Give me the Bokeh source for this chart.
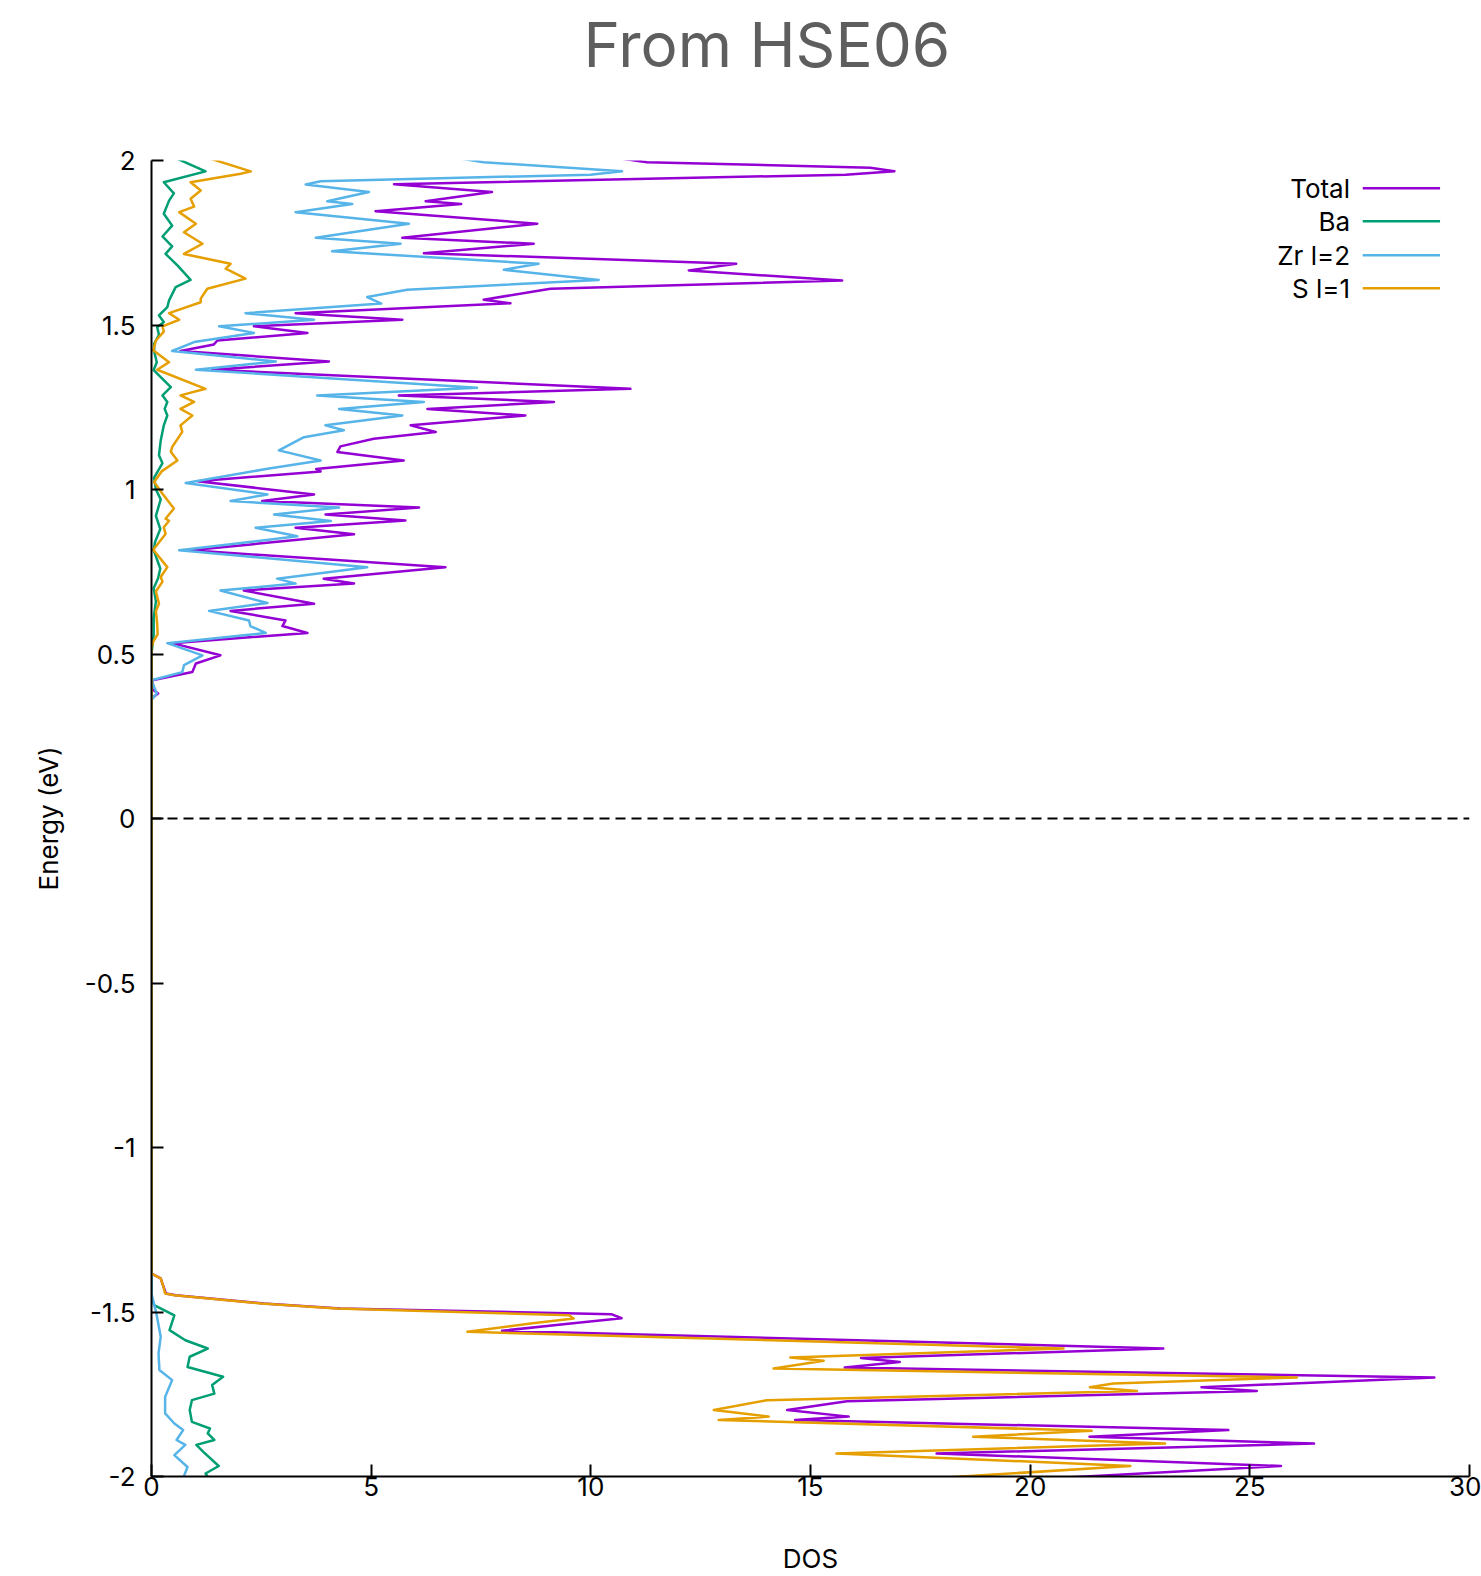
from bokeh.plotting import figure
from bokeh.models import Range1d, FixedTicker, Span, Label, Title
from bokeh.embed import file_html
from bokeh.resources import INLINE

# ---------------- data ----------------
total_energy = [2.005, 1.995, 1.978, 1.967, 1.957, 1.928, 1.904, 1.876, 1.868, 1.846,
                1.808, 1.765, 1.747, 1.718, 1.686, 1.666, 1.635, 1.610, 1.577, 1.566,
                1.536, 1.516, 1.496, 1.476, 1.453, 1.441, 1.421, 1.389, 1.364, 1.306,
                1.286, 1.266, 1.245, 1.225, 1.195, 1.175, 1.154, 1.131, 1.114, 1.088,
                1.062, 1.055, 1.025, 0.985, 0.965, 0.945, 0.924, 0.906, 0.884, 0.864,
                0.815, 0.764, 0.729, 0.714, 0.693, 0.653, 0.631, 0.602, 0.585, 0.564,
                0.533, 0.496, 0.471, 0.445, 0.420, 0.395, 0.380, 0.365,
                -1.383, -1.398, -1.418, -1.444, -1.449, -1.474, -1.489, -1.507, -1.519, -1.535,
                -1.557, -1.611, -1.640, -1.652, -1.669, -1.699, -1.729, -1.740, -1.771, -1.798,
                -1.818, -1.828, -1.859, -1.879, -1.900, -1.930, -1.968, -2.006]
total_dos = [10.72, 11.28, 16.36, 16.91, 15.8, 5.52, 7.75, 6.24, 7.05, 5.10,
             8.78, 5.71, 8.70, 6.20, 13.31, 12.23, 15.72, 9.08, 7.56, 8.17,
             3.28, 5.71, 2.33, 3.55, 1.50, 1.42, 0.66, 4.04, 1.38, 10.90,
             5.63, 9.16, 6.28, 8.51, 5.90, 6.47, 5.06, 4.30, 4.23, 5.74,
             3.75, 3.85, 1.05, 3.70, 2.52, 6.09, 3.96, 5.78, 3.28, 4.61,
             0.89, 6.69, 3.92, 4.61, 2.10, 3.70, 1.80, 3.05, 2.98, 3.55,
             0.47, 1.57, 1.01, 0.93, 0.02, 0.0, 0.15, 0.0,
             0.0, 0.21, 0.26, 0.33, 0.55, 2.55, 4.30, 10.48, 10.70, 9.54,
             7.98, 23.03, 16.15, 17.03, 15.78, 29.20, 23.90, 25.16, 15.83, 14.47,
             15.87, 14.65, 24.51, 21.35, 26.46, 17.87, 25.71, 20.42]

ba_energy = [2.005, 1.967, 1.934, 1.900, 1.878, 1.838, 1.802, 1.769, 1.739, 1.716,
             1.681, 1.637, 1.615, 1.575, 1.554, 1.529, 1.509, 1.493, 1.470, 1.443,
             1.420, 1.387, 1.363, 1.311, 1.286, 1.266, 1.245, 1.225, 1.195, 1.149,
             1.104, 1.080, 1.036, 1.000, 0.970, 0.920, 0.880, 0.840, 0.815, 0.760,
             0.730, 0.700, 0.660, 0.610, 0.560, 0.500,
             -1.454, -1.479, -1.510, -1.555, -1.586, -1.611, -1.636, -1.667, -1.697, -1.722,
             -1.748, -1.768, -1.798, -1.834, -1.854, -1.869, -1.889, -1.904, -1.925, -1.968,
             -1.991, -2.005]
ba_dos = [0.59, 1.23, 0.28, 0.51, 0.40, 0.28, 0.47, 0.25, 0.47, 0.32,
          0.59, 0.89, 0.55, 0.40, 0.36, 0.17, 0.28, 0.13, 0.17, 0.06,
          0.06, 0.12, 0.05, 0.44, 0.25, 0.36, 0.30, 0.36, 0.28, 0.21,
          0.17, 0.25, 0.06, 0.10, 0.21, 0.10, 0.20, 0.08, 0.05, 0.20,
          0.15, 0.05, 0.10, 0.05, 0.05, 0.0,
          0.0, 0.06, 0.52, 0.41, 0.77, 1.28, 0.87, 0.82, 1.63, 1.38,
          1.43, 0.92, 0.87, 0.92, 1.33, 1.28, 1.43, 1.02, 1.18, 1.53,
          1.23, 1.30]

zr_energy = [2.005, 1.995, 1.967, 1.957, 1.937, 1.927, 1.904, 1.876, 1.868, 1.843,
             1.808, 1.765, 1.747, 1.724, 1.686, 1.668, 1.637, 1.607, 1.585, 1.565,
             1.536, 1.516, 1.496, 1.476, 1.448, 1.421, 1.389, 1.364, 1.309, 1.286,
             1.266, 1.245, 1.225, 1.195, 1.180, 1.159, 1.119, 1.088, 1.063, 1.020,
             0.985, 0.965, 0.945, 0.924, 0.904, 0.884, 0.858, 0.815, 0.764, 0.729,
             0.714, 0.693, 0.655, 0.631, 0.602, 0.585, 0.564, 0.533, 0.496, 0.466,
             0.445, 0.420, 0.380, 0.360,
             -1.444, -1.504, -1.575, -1.626, -1.676, -1.707, -1.758, -1.808, -1.839, -1.859,
             -1.889, -1.904, -1.935, -1.971, -2.005]
zr_dos = [7.07, 7.56, 10.71, 9.99, 3.85, 3.51, 4.95, 4.00, 4.57, 3.28,
          5.86, 3.74, 5.67, 4.11, 8.81, 8.02, 10.18, 5.82, 4.91, 5.23,
          2.14, 3.70, 1.54, 2.33, 0.97, 0.47, 2.83, 1.01, 7.41, 3.77,
          6.20, 4.27, 5.71, 3.96, 4.38, 3.47, 2.90, 3.85, 2.64, 0.78,
          2.64, 1.80, 4.27, 2.79, 4.08, 2.37, 3.32, 0.63, 4.91, 2.86,
          3.28, 1.57, 2.64, 1.31, 2.22, 2.25, 2.60, 0.36, 1.16, 0.74,
          0.70, 0.0, 0.12, 0.0,
          0.0, 0.11, 0.21, 0.16, 0.18, 0.47, 0.31, 0.31, 0.52, 0.72,
          0.57, 0.77, 0.52, 0.82, 0.72]

s_energy = [2.005, 1.967, 1.960, 1.934, 1.909, 1.884, 1.860, 1.843, 1.808, 1.782,
            1.747, 1.716, 1.686, 1.671, 1.641, 1.610, 1.580, 1.569, 1.536, 1.516,
            1.496, 1.480, 1.453, 1.423, 1.387, 1.364, 1.306, 1.286, 1.266, 1.245,
            1.225, 1.195, 1.175, 1.129, 1.115, 1.088, 1.055, 1.023, 0.987, 0.942,
            0.911, 0.905, 0.885, 0.865, 0.817, 0.764, 0.734, 0.720, 0.690, 0.653,
            0.630, 0.590, 0.560, 0.540, 0.520,
            -1.383, -1.398, -1.418, -1.444, -1.449, -1.474, -1.489, -1.510, -1.520, -1.535,
            -1.560, -1.611, -1.638, -1.648, -1.672, -1.699, -1.717, -1.729, -1.740, -1.768,
            -1.798, -1.818, -1.828, -1.861, -1.879, -1.900, -1.930, -1.968, -2.006]
s_dos = [1.35, 2.26, 2.03, 0.89, 1.12, 0.89, 0.97, 0.63, 1.01, 0.74,
         1.16, 0.74, 1.80, 1.69, 2.14, 1.27, 1.12, 1.12, 0.40, 0.63,
         0.25, 0.28, 0.10, 0.04, 0.40, 0.13, 1.23, 0.66, 0.97, 0.66,
         0.93, 0.66, 0.70, 0.47, 0.44, 0.59, 0.23, 0.06, 0.25, 0.51,
         0.32, 0.40, 0.28, 0.32, 0.04, 0.36, 0.21, 0.25, 0.10, 0.17,
         0.10, 0.13, 0.14, 0.05, 0.0,
         0.0, 0.21, 0.26, 0.31, 0.52, 2.50, 4.22, 9.50, 9.61, 8.63,
         7.19, 20.76, 14.54, 15.30, 14.16, 26.07, 21.89, 21.36, 22.43, 14.01,
         12.80, 14.05, 12.91, 21.40, 18.70, 23.07, 15.59, 22.28, 17.73]

series_names = ["Total", "Ba", "Zr l=2", "S l=1"]
series_colors = ["#9400d3", "#009e73", "#56b4e9", "#e69f00"]

x_ticks = [0, 5, 10, 15, 20, 25, 30]
x_tick_labels = ["0", "5", "10", "15", "20", "25", "30"]
y_ticks = [-2, -1.5, -1, -0.5, 0, 0.5, 1, 1.5, 2]
y_tick_labels = ["-2", "-1.5", "-1", "-0.5", "0", "0.5", "1", "1.5", "2"]

title_text = "From HSE06"

# legend placement (data units)
legend_text_x = 27.28
legend_line_x0 = 27.57
legend_line_x1 = 29.33
legend_rows = [1.916, 1.815, 1.712, 1.612]

FONT = "Inter"

p = figure(width=1481, height=1576, output_backend="svg", toolbar_location=None,
           x_range=Range1d(0, 30), y_range=Range1d(-2, 2),
           title=title_text,
           min_border_left=151, min_border_right=12, min_border_top=160, min_border_bottom=100)

p.title.text_font = FONT
p.title.text_font_size = "62px"
p.title.text_font_style = "normal"
p.title.text_color = "#5e5e5e"
p.title.align = "left"
p.title.offset = 432
p.title.vertical_align = "top"
p.title.standoff = 10

# invisible spacer between the title and the plot frame, so the title sits at the top
p.add_layout(Title(text=" ", text_font_size="1px", text_color="white", standoff=69), "above")

p.outline_line_color = None
p.xgrid.visible = False
p.ygrid.visible = False
p.background_fill_color = "white"
p.border_fill_color = "white"

for ax in (p.xaxis[0], p.yaxis[0]):
    ax.axis_line_color = "black"
    ax.axis_line_width = 2
    ax.major_tick_line_color = "black"
    ax.major_tick_line_width = 2
    ax.major_tick_in = 12
    ax.major_tick_out = 0
    ax.minor_tick_in = 0
    ax.minor_tick_out = 0
    ax.major_label_text_font = FONT
    ax.major_label_text_font_size = "26px"
    ax.major_label_text_color = "black"
    ax.axis_label_text_font = FONT
    ax.axis_label_text_font_size = "26px"
    ax.axis_label_text_font_style = "normal"
    ax.axis_label_text_color = "black"

p.xaxis.ticker = FixedTicker(ticks=x_ticks)
p.xaxis.major_label_overrides = dict(zip(x_ticks, x_tick_labels))
p.yaxis.ticker = FixedTicker(ticks=y_ticks)
p.yaxis.major_label_overrides = dict(zip(y_ticks, y_tick_labels))
p.xaxis.axis_label = "DOS"
p.yaxis.axis_label = "Energy (eV)"
p.xaxis.major_label_standoff = 0
p.yaxis.major_label_standoff = 16
p.xaxis.axis_label_standoff = 44
p.yaxis.axis_label_standoff = 18

# zero (Fermi) line
p.add_layout(Span(location=0, dimension="width", line_color="black",
                  line_dash="10 6", line_width=2))

energies = [total_energy, ba_energy, zr_energy, s_energy]
doses = [total_dos, ba_dos, zr_dos, s_dos]
for e, d, c in zip(energies, doses, series_colors):
    p.line(x=d, y=e, line_color=c, line_width=2.5, line_join="round")

# gnuplot-style legend: label right-aligned, sample line to its right
for name, c, yrow in zip(series_names, series_colors, legend_rows):
    p.add_layout(Label(x=legend_text_x, y=yrow, text=name, text_align="right",
                       text_baseline="middle", text_font=FONT, text_font_size="26px",
                       text_color="black"))
    p.segment(x0=[legend_line_x0], y0=[yrow], x1=[legend_line_x1], y1=[yrow],
              line_color=c, line_width=2.5)

open("out.html", "w").write(file_html(p, INLINE))
